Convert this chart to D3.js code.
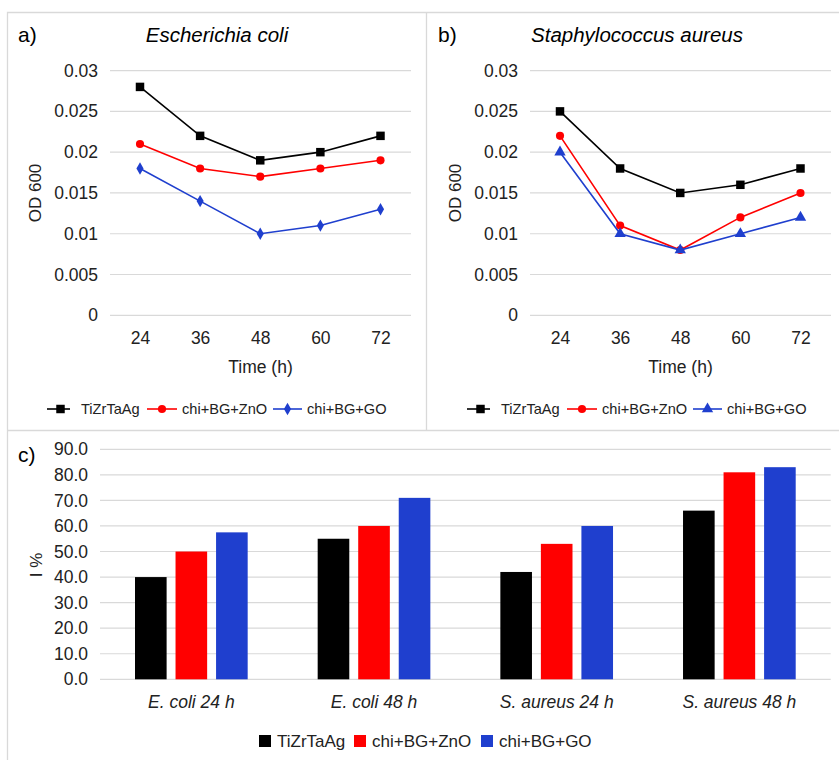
<!DOCTYPE html>
<html>
<head>
<meta charset="utf-8">
<script src="https://cdn.jsdelivr.net/npm/d3@7"></script>
<style>
  html, body { margin: 0; padding: 0; background: #fff; }
  svg { display: block; font-family: "Liberation Sans", Arial, sans-serif; }
</style>
</head>
<body>
<svg id="chart" width="839" height="760"></svg>
<script>
// Time points and OD600 readings
const hours = ["24", "36", "48", "60", "72"];
const seriesNames = ["TiZrTaAg", "chi+BG+ZnO", "chi+BG+GO"];
const seriesColors = ["#000000", "#ff0000", "#1f3fce"];

const ecoliTi  = [0.028, 0.022, 0.019, 0.020, 0.022];
const ecoliZnO = [0.021, 0.018, 0.017, 0.018, 0.019];
const ecoliGO  = [0.018, 0.014, 0.010, 0.011, 0.013];

const saureusTi  = [0.025, 0.018, 0.015, 0.016, 0.018];
const saureusZnO = [0.022, 0.011, 0.008, 0.012, 0.015];
const saureusGO  = [0.020, 0.010, 0.008, 0.010, 0.012];

const odTicks = [0, 0.005, 0.01, 0.015, 0.02, 0.025, 0.03];

// Inhibition percentages
const groups = ["E. coli 24 h", "E. coli 48 h", "S. aureus 24 h", "S. aureus 48 h"];
const inhibTi  = [40, 55, 42, 66];
const inhibZnO = [50, 60, 53, 81];
const inhibGO  = [57.5, 71, 60, 83];
const pctTicks = [0, 10, 20, 30, 40, 50, 60, 70, 80, 90];

const svg = d3.select("#chart");
const gridColor = "#d9d9d9";
const frameColor = "#d9d9d9";

// panel frames
svg.append("path")
  .attr("d", "M7.5,760 V12.5 H839 M426.5,12.5 V430.5 M7.5,430.5 H839")
  .attr("fill", "none").attr("stroke", frameColor).attr("stroke-width", 1.3);

function linePanel(ox, label, title, data, thirdMarker) {
  const g = svg.append("g").attr("transform", `translate(${ox},0)`);
  const x = d3.scalePoint().domain(hours).range([140, 380.5]);
  const y = d3.scaleLinear().domain([0, 0.03]).range([315.3, 70.6]);

  g.append("text").attr("x", 18).attr("y", 42).attr("font-size", 21)
    .attr("fill", "#000").text(label);
  g.append("text").attr("x", 217).attr("y", 42).attr("font-size", 20.5)
    .attr("font-style", "italic").attr("text-anchor", "middle").text(title);

  // gridlines
  g.append("g").selectAll("line").data(odTicks).join("line")
    .attr("x1", 110).attr("x2", 411)
    .attr("y1", d => y(d)).attr("y2", d => y(d))
    .attr("stroke", gridColor).attr("stroke-width", 1.2);

  const yAxis = d3.axisLeft(y).tickValues(odTicks).tickSize(0).tickPadding(0)
    .tickFormat(d => d3.format("")(+d.toFixed(3)));
  const ya = g.append("g").attr("transform", "translate(98,0)").call(yAxis);
  ya.select(".domain").remove();
  ya.selectAll("text").attr("font-size", 17.5).attr("fill", "#222")
    .attr("font-family", "Liberation Sans, Arial, sans-serif");

  const xAxis = d3.axisBottom(x).tickSize(0).tickPadding(0);
  const xa = g.append("g").attr("transform", "translate(0,332)").call(xAxis);
  xa.select(".domain").remove();
  xa.selectAll("text").attr("font-size", 17.5).attr("fill", "#222")
    .attr("font-family", "Liberation Sans, Arial, sans-serif");

  g.append("text").attr("x", 260.5).attr("y", 373).attr("font-size", 17.5)
    .attr("text-anchor", "middle").attr("fill", "#222").text("Time (h)");
  g.append("text").attr("transform", "translate(41,193) rotate(-90)")
    .attr("font-size", 17).attr("text-anchor", "middle").attr("fill", "#222").text("OD 600");

  const markers = ["square", "circle", thirdMarker];
  const symbolOf = m => m === "square" ? d3.symbolSquare : m === "circle" ? d3.symbolCircle
    : m === "diamond" ? d3.symbolDiamond : d3.symbolTriangle;
  const sizeOf = m => m === "square" ? 72 : m === "circle" ? 52 : m === "diamond" ? 44 : 56;

  const line = d3.line().x((d, i) => x(hours[i])).y(d => y(d));
  data.forEach((vals, s) => {
    g.append("path").datum(vals).attr("d", line)
      .attr("fill", "none").attr("stroke", seriesColors[s]).attr("stroke-width", 1.6);
    g.append("g").selectAll("path").data(vals).join("path")
      .attr("transform", (d, i) => `translate(${x(hours[i])},${y(d)})`)
      .attr("d", d3.symbol().type(symbolOf(markers[s])).size(sizeOf(markers[s])))
      .attr("fill", seriesColors[s]);
  });

  // legend
  const legX = [47, 147, 273];
  const legLen = [23, 30, 29];
  seriesNames.forEach((n, s) => {
    const lg = g.append("g");
    lg.append("line").attr("x1", legX[s]).attr("x2", legX[s] + legLen[s])
      .attr("y1", 409).attr("y2", 409).attr("stroke", seriesColors[s]).attr("stroke-width", 1.6);
    lg.append("path").attr("transform", `translate(${legX[s] + legLen[s] / 2 + (s === 0 ? 2 : 0)},409)`)
      .attr("d", d3.symbol().type(symbolOf(markers[s])).size(sizeOf(markers[s])))
      .attr("fill", seriesColors[s]);
    lg.append("text").attr("x", legX[s] + legLen[s] + 11 - (s === 0 ? 0 : 6)).attr("y", 414)
      .attr("font-size", 14.6).attr("fill", "#222").text(n);
  });
}

linePanel(0, "a)", "Escherichia coli", [ecoliTi, ecoliZnO, ecoliGO], "diamond");
linePanel(420, "b)", "Staphylococcus aureus", [saureusTi, saureusZnO, saureusGO], "triangle");

// bar panel
(function () {
  const g = svg.append("g");
  const x0 = d3.scaleBand().domain(groups).range([100, 830.7]).paddingInner(0).paddingOuter(0);
  const x1 = d3.scaleBand().domain(seriesNames).range([35, x0.bandwidth() - 35]).paddingInner(0.22).paddingOuter(0);
  const y = d3.scaleLinear().domain([0, 90]).range([679.3, 449.3]);

  g.append("text").attr("x", 18).attr("y", 462).attr("font-size", 21).text("c)");

  g.append("g").selectAll("line").data(pctTicks).join("line")
    .attr("x1", 100).attr("x2", 830.7)
    .attr("y1", d => y(d)).attr("y2", d => y(d))
    .attr("stroke", gridColor).attr("stroke-width", 1.2);

  const ya = g.append("g").attr("transform", "translate(88,0)")
    .call(d3.axisLeft(y).tickValues(pctTicks).tickSize(0).tickPadding(0).tickFormat(d3.format(".1f")));
  ya.select(".domain").remove();
  ya.selectAll("text").attr("font-size", 17.5).attr("fill", "#222")
    .attr("font-family", "Liberation Sans, Arial, sans-serif");

  g.append("text").attr("transform", "translate(42,565) rotate(-90)")
    .attr("font-size", 17).attr("text-anchor", "middle").attr("fill", "#222").text("I %");

  const rows = groups.map((grp, i) => ({ grp, vals: [inhibTi[i], inhibZnO[i], inhibGO[i]] }));
  g.append("g").selectAll("g").data(rows).join("g")
    .attr("transform", d => `translate(${x0(d.grp)},0)`)
    .selectAll("rect").data(d => d.vals.map((v, s) => ({ v, s }))).join("rect")
    .attr("x", d => x1(seriesNames[d.s]))
    .attr("width", x1.bandwidth())
    .attr("y", d => y(d.v))
    .attr("height", d => y(0) - y(d.v))
    .attr("fill", d => seriesColors[d.s]);

  const xa = g.append("g").attr("transform", "translate(0,696)")
    .call(d3.axisBottom(x0).tickSize(0).tickPadding(0));
  xa.select(".domain").remove();
  xa.selectAll("text").attr("font-size", 17.5).attr("font-style", "italic").attr("fill", "#222")
    .attr("font-family", "Liberation Sans, Arial, sans-serif");

  // legend
  const legSq = [259, 354, 481];
  seriesNames.forEach((n, s) => {
    g.append("rect").attr("x", legSq[s]).attr("y", 735).attr("width", 12).attr("height", 12)
      .attr("fill", seriesColors[s]);
    g.append("text").attr("x", legSq[s] + 18).attr("y", 747).attr("font-size", 17)
      .attr("fill", "#222").text(n);
  });
})();
</script>
</body>
</html>
